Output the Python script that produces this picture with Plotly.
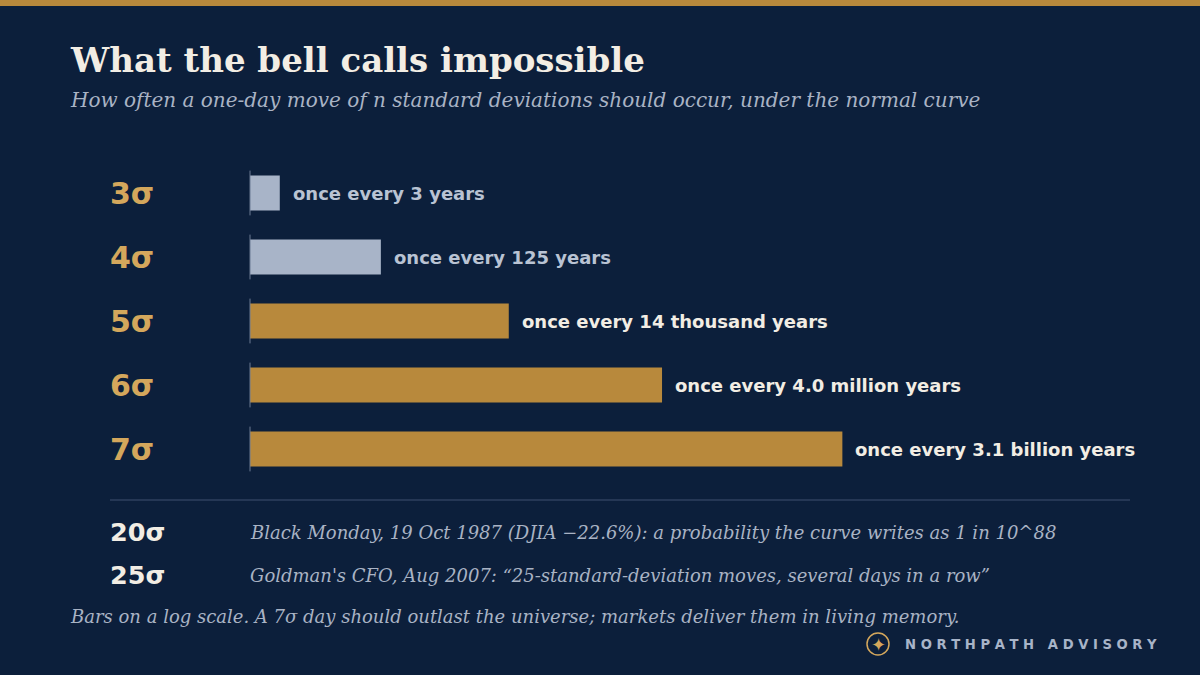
import numpy as np
import plotly.graph_objects as go

# data
sigma_labels = ["3σ", "4σ", "5σ", "6σ", "7σ"]
years_between = [3, 125, 14000, 4.0e6, 3.1e9]
value_labels = [
    "once every 3 years",
    "once every 125 years",
    "once every 14 thousand years",
    "once every 4.0 million years",
    "once every 3.1 billion years",
]
extreme_sigmas = ["20σ", "25σ"]
extreme_notes = [
    "Black Monday, 19 Oct 1987 (DJIA −22.6%): a probability the curve writes as 1 in 10^88",
    "Goldman's CFO, Aug 2007: “25-standard-deviation moves, several days in a row”",
]

BG = "#0c1f3b"
GOLD = "#b8893c"
GOLD_TEXT = "#d4a75c"
STEEL = "#a8b4c8"
CREAM = "#f2ede4"
MUTED = "#a9b3c4"

W, H = 1200, 675


def px(x):
    # annotations carry ~2px of padding, compensate here
    return (x - 2) / W


def py(y):
    return 1 - y / H


bar_colors = [STEEL, STEEL, GOLD, GOLD, GOLD]
label_colors = ["#b9c3d3", "#b9c3d3", CREAM, CREAM, CREAM]

fig = go.Figure()
fig.add_trace(go.Bar(
    x=years_between,
    y=sigma_labels,
    orientation="h",
    marker=dict(color=bar_colors, line=dict(width=0)),
    width=0.55,
    hoverinfo="skip",
))

annotations = []
shapes = []

# value labels at the end of each bar (log axis -> log10 coords)
for i, (v, lab) in enumerate(zip(years_between, value_labels)):
    annotations.append(dict(
        x=np.log10(v), y=sigma_labels[i], xref="x", yref="y",
        text=lab, showarrow=False, xanchor="left", yanchor="middle", xshift=11,
        font=dict(family="DejaVu Sans", size=18, color=label_colors[i], weight="bold"),
    ))
    # sigma row labels on the left
    annotations.append(dict(
        x=px(110), y=sigma_labels[i], xref="paper", yref="y",
        text=sigma_labels[i], showarrow=False, xanchor="left", yanchor="middle",
        font=dict(family="DejaVu Sans", size=30, color=GOLD_TEXT, weight="bold"),
    ))
    # short baseline tick at the axis origin for each bar
    shapes.append(dict(
        type="line", xref="x domain", yref="y", x0=0, x1=0,
        y0=i - 0.35, y1=i + 0.35, line=dict(color="#6b7a93", width=1),
    ))

# title & subtitle
annotations.append(dict(
    x=px(70), y=py(60), xref="paper", yref="paper", showarrow=False,
    xanchor="left", yanchor="middle", text="What the bell calls impossible",
    font=dict(family="DejaVu Serif", size=34, color=CREAM, weight="bold"),
))
annotations.append(dict(
    x=px(70), y=py(100), xref="paper", yref="paper", showarrow=False,
    xanchor="left", yanchor="middle",
    text="How often a one-day move of n standard deviations should occur, under the normal curve",
    font=dict(family="DejaVu Serif", size=20, color=MUTED, style="italic"),
))

# extreme events
for sy, (s, note) in zip([532, 575], zip(extreme_sigmas, extreme_notes)):
    annotations.append(dict(
        x=px(110), y=py(sy), xref="paper", yref="paper", showarrow=False,
        xanchor="left", yanchor="middle", text=s,
        font=dict(family="DejaVu Sans", size=25.5, color=CREAM, weight="bold"),
    ))
    annotations.append(dict(
        x=px(250), y=py(sy), xref="paper", yref="paper", showarrow=False,
        xanchor="left", yanchor="middle", text=note,
        font=dict(family="DejaVu Serif", size=18, color=MUTED, style="italic"),
    ))

annotations.append(dict(
    x=px(70), y=py(616), xref="paper", yref="paper", showarrow=False,
    xanchor="left", yanchor="middle",
    text="Bars on a log scale. A 7σ day should outlast the universe; markets deliver them in living memory.",
    font=dict(family="DejaVu Serif", size=18, color=MUTED, style="italic"),
))

# brand
annotations.append(dict(
    x=px(905), y=py(644), xref="paper", yref="paper", showarrow=False,
    xanchor="left", yanchor="middle",
    text="N O R T H P A T H \u00a0\u00a0A D V I S O R Y",
    font=dict(family="DejaVu Sans", size=13.2, color=STEEL, weight="bold"),
))
annotations.append(dict(
    x=878 / W, y=py(644), xref="paper", yref="paper", showarrow=False,
    xanchor="center", yanchor="middle", text="✦",
    font=dict(family="DejaVu Sans", size=18, color=GOLD_TEXT),
))

# gold band at top, divider, logo ring
shapes.append(dict(type="rect", xref="paper", yref="paper", x0=0, x1=1,
                   y0=py(6), y1=1, fillcolor=GOLD, line=dict(width=0)))
shapes.append(dict(type="line", xref="paper", yref="paper", x0=110 / W, x1=1130 / W,
                   y0=py(500), y1=py(500), line=dict(color="#3e5170", width=1)))
shapes.append(dict(type="circle", xref="paper", yref="paper",
                   x0=867 / W, x1=889 / W, y0=py(655), y1=py(633),
                   line=dict(color=GOLD_TEXT, width=1.5)))

fig.update_layout(
    width=W, height=H,
    paper_bgcolor=BG, plot_bgcolor=BG,
    margin=dict(l=0, r=0, t=0, b=0),
    showlegend=False,
    xaxis=dict(type="log", range=[0, 14.1], domain=[250 / W, 1130 / W],
               showgrid=False, zeroline=False, showticklabels=False, showline=False),
    yaxis=dict(type="category", autorange="reversed", domain=[py(481), py(161)],
               showgrid=False, zeroline=False, showticklabels=False, showline=False),
    annotations=annotations,
    shapes=shapes,
)

# drop the default page margin so the figure fills the window
fig.write_html("out.html", config={"displayModeBar": False},
               post_script="document.body.style.margin='0';")
